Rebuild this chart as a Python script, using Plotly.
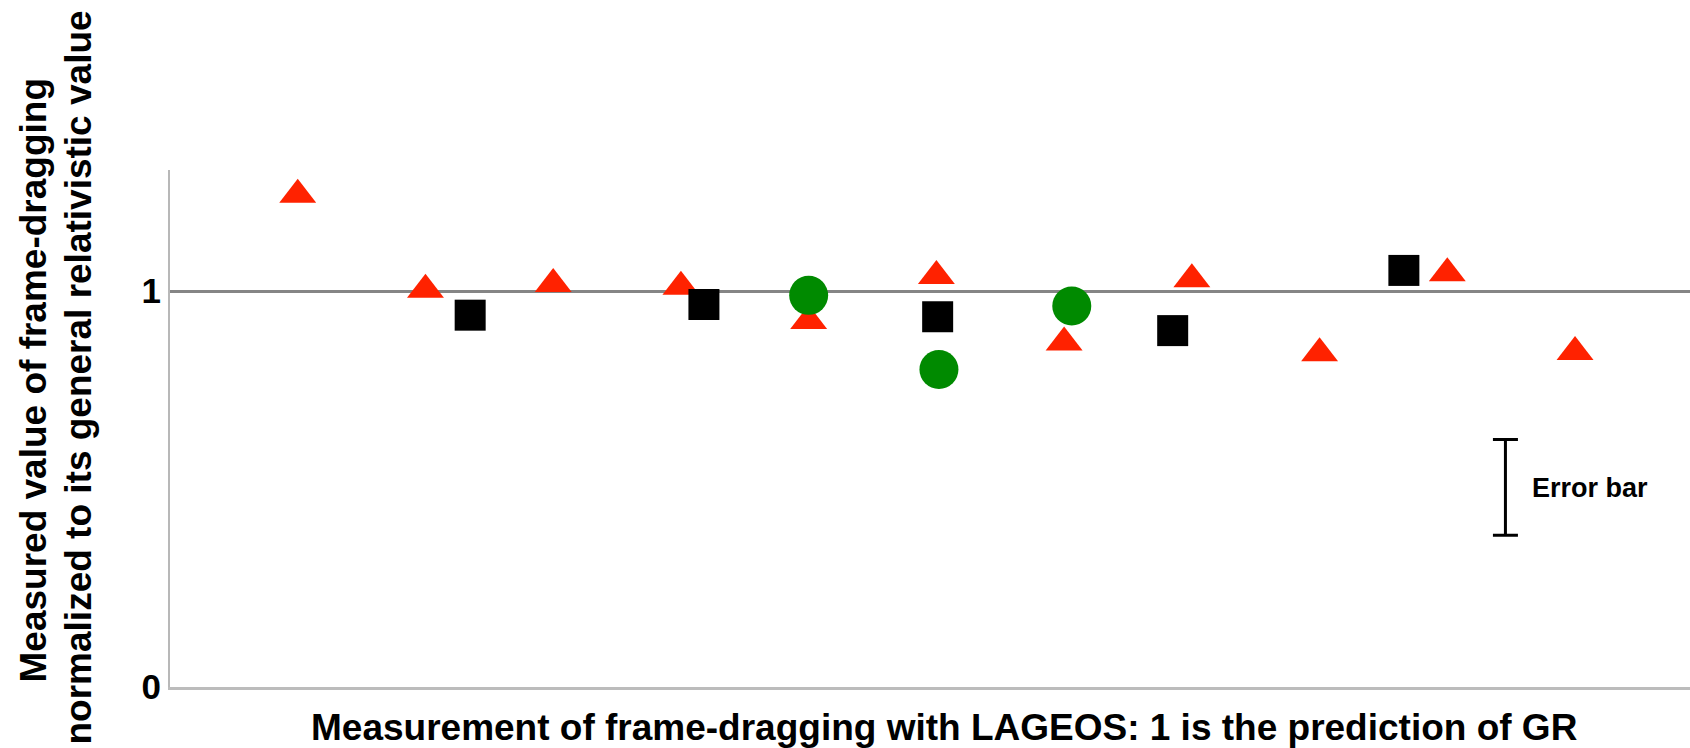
import plotly.graph_objects as go

# Measurement index along the horizontal axis (no tick labels shown)
tri_x = [1, 2, 3, 4, 5, 6, 7, 8, 9, 10, 11]
tri_y = [1.243, 1.003, 1.018, 1.011, 0.924, 1.038, 0.870, 1.030, 0.843, 1.045, 0.846]

sq_x = [2.35, 4.18, 6.01, 7.85, 9.66]
sq_y = [0.939, 0.966, 0.935, 0.900, 1.052]

circ_x = [5.0, 6.02, 7.06]
circ_y = [0.989, 0.802, 0.962]

# Representative error bar shown at the right
err_x = [10.455]
err_y = [0.504]
err_half = [0.121]

y_ticks = [0, 1]
y_ticktext = ["0", "1"]

FONT = "Liberation Sans, Arial, Helvetica, sans-serif"

fig = go.Figure()

fig.add_trace(go.Scatter(
    x=tri_x, y=tri_y, mode="markers",
    marker=dict(symbol="triangle-up", size=32, color="#ff2200", line=dict(width=0)),
))
fig.add_trace(go.Scatter(
    x=sq_x, y=sq_y, mode="markers",
    marker=dict(symbol="square", size=31, color="#000000", line=dict(width=0)),
))
fig.add_trace(go.Scatter(
    x=circ_x, y=circ_y, mode="markers",
    marker=dict(symbol="circle", size=39, color="#008a00", line=dict(width=0)),
))
fig.add_trace(go.Scatter(
    x=err_x, y=err_y, mode="markers",
    marker=dict(size=1, color="rgba(0,0,0,0)"),
    error_y=dict(type="data", array=err_half, symmetric=True,
                 color="#000000", thickness=3, width=12.5),
))

fig.update_layout(
    width=1690, height=748,
    margin=dict(l=170, r=0, t=170, b=61),
    paper_bgcolor="white", plot_bgcolor="white",
    showlegend=False,
    font=dict(family=FONT, color="black"),
    xaxis=dict(
        range=[0, 11.9], showticklabels=False, ticks="",
        showgrid=False, zeroline=False,
        showline=True, linecolor="#bcbcbc", linewidth=3,
    ),
    yaxis=dict(
        range=[0, 1.3056], tickvals=y_ticks, ticktext=y_ticktext, ticks="",
        tickfont=dict(size=35, family=FONT, weight="bold", color="black"),
        showgrid=True, gridcolor="#858585", gridwidth=2.5,
        zeroline=False,
        showline=True, linecolor="#b8b8b8", linewidth=2,
    ),
    annotations=[
        dict(text="Measurement of frame-dragging with LAGEOS: 1 is the prediction of GR",
             xref="paper", yref="paper", x=0.509, y=-0.0793,
             xanchor="center", yanchor="middle", showarrow=False,
             font=dict(size=37, family=FONT, weight="bold", color="black")),
        dict(text="Measured value of frame-dragging",
             xref="paper", yref="paper", x=-0.0895, y=0.5928, textangle=-90,
             xanchor="center", yanchor="middle", showarrow=False,
             font=dict(size=37, family=FONT, weight="bold", color="black")),
        dict(text="normalized to its general relativistic value",
             xref="paper", yref="paper", x=-0.0602, y=0.5996, textangle=-90,
             xanchor="center", yanchor="middle", showarrow=False,
             font=dict(size=37, family=FONT, weight="bold", color="black")),
        dict(text="Error bar",
             xref="x", yref="y", x=10.65, y=0.5035,
             xanchor="left", yanchor="middle", showarrow=False,
             font=dict(size=27, family=FONT, weight="bold", color="black")),
    ],
)

fig.write_html("out.html")
